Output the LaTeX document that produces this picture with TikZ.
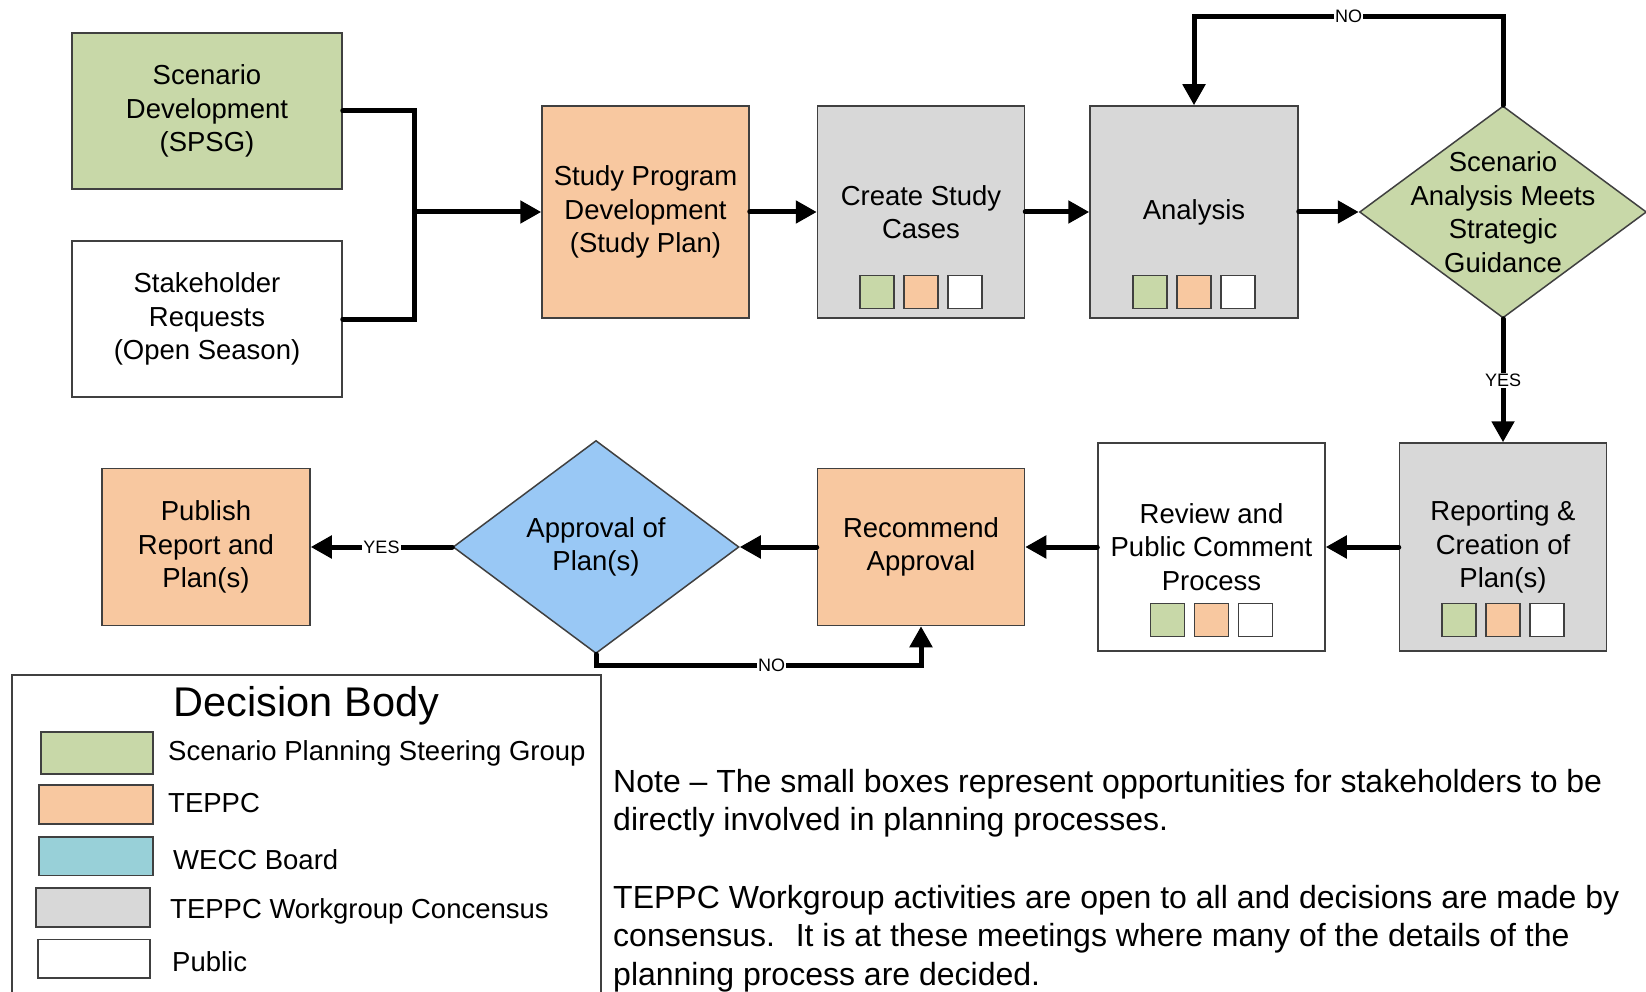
\documentclass[tikz,border=0pt]{standalone}
\usepackage{fontspec}
\setmainfont{Liberation Sans}
\usetikzlibrary{shapes.geometric,arrows.meta}

\definecolor{spsg}{RGB}{200,216,168}
\definecolor{teppc}{RGB}{248,200,160}
\definecolor{wecc}{RGB}{152,208,216}
\definecolor{workgrp}{RGB}{216,216,216}
\definecolor{board}{RGB}{153,200,245}
\definecolor{edge}{RGB}{64,64,64}

\tikzset{
  stepbox/.style={draw=edge, line width=1.5pt, align=center, inner sep=0pt,
    font=\fontsize{27.5}{33.6}\selectfont},
  decide/.style={stepbox, diamond, inner sep=-40pt, minimum width=287pt, minimum height=212pt},
  flow/.style={line width=5pt, line cap=round, -{Triangle[length=21pt,width=22pt]}},
  link/.style={line width=5pt, line cap=round},
  yesno/.style={fill=white, inner sep=1pt, font=\fontsize{18}{18}\selectfont},
  swatch/.style={draw=edge, line width=1.5pt},
  legtext/.style={anchor=west, inner sep=0pt, font=\fontsize{27.5}{33.6}\selectfont},
}

% three small stakeholder boxes (green, orange, white) centred at #1,#2
\newcommand{\stakebox}[2]{%
  \foreach \c/\dx in {spsg/-44,teppc/0,white/44}
    \filldraw[swatch, fill=\c] ({#1+(\dx)-17},{#2-16.5}) rectangle ++(34,33);
}

\begin{document}
\begin{tikzpicture}[x=1pt,y=-1pt]
 \useasboundingbox (0,0) rectangle (1646,992);

 % top row
 \node[stepbox, fill=spsg, minimum width=270pt, minimum height=156pt] (sdev) at (207,111) {Scenario\\Development\\(SPSG)};
 \node[stepbox, fill=white, minimum width=270pt, minimum height=156pt] (sreq) at (207,319) {Stakeholder\\Requests\\(Open Season)};
 \node[stepbox, fill=teppc, minimum width=207pt, minimum height=212pt] (spd) at (645.5,212) {Study Program\\Development\\(Study Plan)};
 \node[stepbox, fill=workgrp, minimum width=207pt, minimum height=212pt] (csc) at (921,212) {Create Study\\Cases};
 \node[stepbox, fill=workgrp, minimum width=208pt, minimum height=212pt] (ana) at (1194,212) {Analysis};
 \node[decide, fill=spsg] (dia1) at (1503,212) {Scenario\\Analysis Meets\\Strategic\\Guidance};
 \stakebox{921}{292}
 \stakebox{1194}{292}

 % bottom row
 \node[stepbox, fill=workgrp, minimum width=207pt, minimum height=208pt] (rep) at (1503,547) {Reporting \&\\Creation of\\Plan(s)};
 \node[stepbox, fill=white, minimum width=227pt, minimum height=208pt] (rev) at (1211.5,547) {Review and\\Public Comment\\Process};
 \node[stepbox, fill=teppc, minimum width=207pt, minimum height=157pt] (rec) at (921,547) {Recommend\\Approval};
 \node[decide, fill=board, minimum width=286pt, minimum height=213pt] (dia2) at (596,547) {Approval of\\Plan(s)};
 \node[stepbox, fill=teppc, minimum width=208pt, minimum height=157pt] (pub) at (206,547) {Publish\\Report and\\Plan(s)};
 \stakebox{1211.5}{620}
 \stakebox{1503}{620}

 % connectors
 \coordinate (jn) at (414.6,212);
 \draw[link] (sdev.east) -| (jn) |- (sreq.east);
 \draw[flow] (jn) -- (spd.west);
 \draw[flow] (spd) -- (csc);
 \draw[flow] (csc) -- (ana);
 \draw[flow] (ana) -- (dia1);
 \draw[flow] (dia1.north) -- ++(0,-89) -| node[yesno, pos=0.25] {NO} (ana.north);
 \draw[flow] (dia1.south) -- node[yesno] {YES} (rep.north);
 \draw[flow] (rep) -- (rev);
 \draw[flow] (rev) -- (rec);
 \draw[flow] (rec) -- (dia2);
 \draw[flow] (dia2) -- node[yesno] {YES} (pub);
 \draw[flow] (dia2.south) -- ++(0,11.5) -| node[yesno, pos=0.27] {NO} (rec.south);

 % legend
 \draw[edge, line width=1.5pt] (12,675) rectangle (601,1000);
 \node (dbody) at (306.5,706) {\fontsize{41.5}{45}\selectfont Decision Body};
 \filldraw[swatch, fill=spsg] (41,732) rectangle (153,774);
 \filldraw[swatch, fill=teppc] (39,785) rectangle (153,824);
 \filldraw[swatch, fill=wecc] (39,837) rectangle (153,875.5);
 \filldraw[swatch, fill=workgrp] (36,888) rectangle (150,927);
 \filldraw[swatch, fill=white] (38,939.5) rectangle (150,978);
 \node[legtext] (lspsg) at (168,753) {Scenario Planning Steering Group};
 \node[legtext] (lteppc) at (168,803) {TEPPC};
 \node[legtext] (lwecc) at (173,860) {WECC Board};
 \node[legtext] (lwork) at (170,911) {TEPPC Workgroup Concensus};
 \node[legtext] (lpub) at (172,961.5) {Public};

 % note
 \node[anchor=north west, align=left, inner sep=0pt, font=\fontsize{32}{38.6}\selectfont] (note) at (613,769)
  {Note -- The small boxes represent opportunities for stakeholders to be\\
   directly involved in planning processes.\\[38.6pt]
   TEPPC Workgroup activities are open to all and decisions are made by\\
   consensus.~ It is at these meetings where many of the details of the\\
   planning process are decided.};
\end{tikzpicture}
\end{document}
